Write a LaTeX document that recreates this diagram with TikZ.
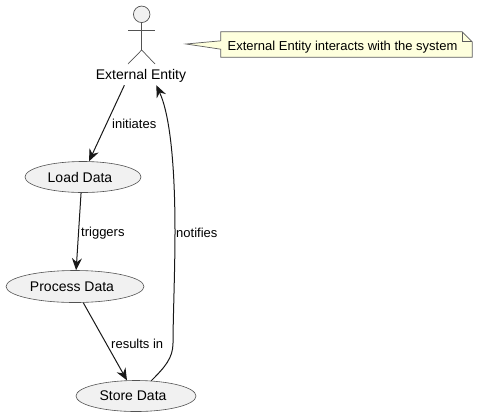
\documentclass[tikz,border=0pt]{standalone}
\usepackage{fontspec}
\setmainfont{Liberation Sans}
\usetikzlibrary{arrows.meta,shapes.geometric}
\definecolor{linedark}{HTML}{181818}
\definecolor{usefill}{HTML}{F1F1F1}
\definecolor{notefill}{HTML}{FEFFDD}
\tikzset{
    umltext/.style={font=\fontsize{13}{15}\selectfont, text=black, inner sep=0pt},
    usecase/.style={ellipse, draw=linedark!75, fill=usefill, line width=0.6pt, inner sep=0pt, font=\fontsize{14}{15}\selectfont},
    flow/.style={draw=linedark, line width=1pt, -{Stealth[length=12pt,width=10pt,inset=4pt]}},
    actorline/.style={draw=linedark!75, line width=0.7pt},
    noteline/.style={draw=linedark!70, fill=notefill, line width=0.7pt}
}
\begin{document}
\begin{tikzpicture}[x=1pt,y=-1pt]
    \useasboundingbox (0,0) rectangle (478,416);

    % Actor
    \node[circle, draw=linedark!75, fill=usefill, line width=0.7pt, minimum size=16.5pt, inner sep=0pt] (head) at (141.7,14.3) {};
    \coordinate (hip) at (141.7,50);
    \draw[actorline] (head.south) -- (hip);
    \draw[actorline] (128,30) -- (155,30);
    \draw[actorline] (128,64) -- (hip) -- (155,64);
    \node[umltext, font=\fontsize{14}{15}\selectfont, minimum width=90pt, minimum height=18pt] (extern) at (141,76) {External Entity};

    % Note with its tail
    \node[umltext, minimum width=251pt, minimum height=25pt] (notebox) at (346.5,44.5) {};
    \coordinate (notetip) at (186,44);
    \draw[noteline] (notebox.north west) -- ([xshift=-10pt]notebox.north east) -- ([yshift=-10pt]notebox.north east)
        -- (notebox.south east) -- (notebox.south west) -- ([yshift=8pt]notebox.south west)
        -- (notetip) -- ([yshift=-9pt]notebox.north west) -- cycle;
    \draw[noteline, fill=none] ([xshift=-10pt]notebox.north east) -- ([xshift=-10pt,yshift=-10pt]notebox.north east) -- ([yshift=-10pt]notebox.north east);
    \node[umltext] (notetext) at (342.5,47) {External Entity interacts with the system};

    % Use cases
    \node[usecase, minimum width=116pt, minimum height=31pt] (load) at (83,177) {Load Data\kern6pt};
    \node[usecase, minimum width=138pt, minimum height=32pt] (process) at (75,286.5) {Process Data\kern6pt};
    \node[usecase, minimum width=120pt, minimum height=31pt] (store) at (136,396) {Store Data\kern6pt};

    % Connectors
    \draw[flow] (extern.209) -- (load.69);
    \draw[flow] (load.263) -- (process.86);
    \draw[flow] (process.-63) -- (store.120);
    \draw[flow] (store.45) .. controls (165,367) and (173,358) .. (173,343)
        .. controls (173,320) and (175,270) .. (175,232)
        .. controls (175,165) and (170,115) .. (extern.-31);

    % Connector labels
    \node[umltext, anchor=west] (lblinit) at (112,124) {initiates};
    \node[umltext, anchor=west] (lbltrig) at (81,233.5) {triggers};
    \node[umltext, anchor=west] (lblnote) at (176,233) {notifies};
    \node[umltext, anchor=west] (lblres) at (111,343.5) {results in};
\end{tikzpicture}
\end{document}
